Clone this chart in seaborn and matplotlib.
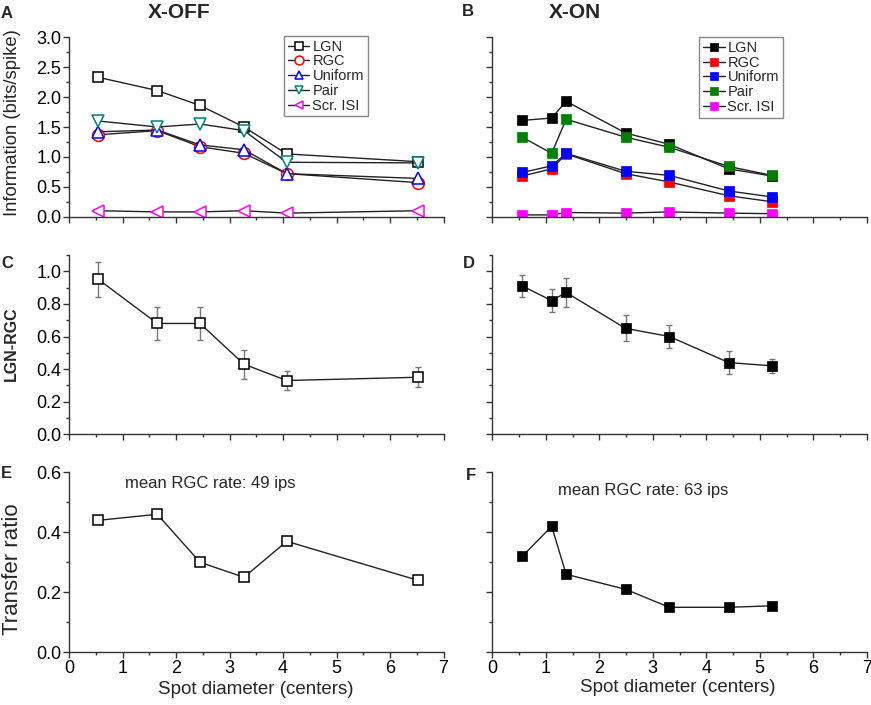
import matplotlib
matplotlib.use("Agg")
import matplotlib.pyplot as plt
import seaborn as sns
import numpy as np
import pandas as pd
from matplotlib.ticker import MultipleLocator, FormatStrFormatter

# ---------------- data ----------------
off_x = [0.55, 1.65, 2.45, 3.27, 4.07, 6.52]
off_lgn = [2.33, 2.11, 1.86, 1.50, 1.05, 0.92]
off_rgc = [1.37, 1.44, 1.17, 1.06, 0.72, 0.57]
off_uniform = [1.42, 1.45, 1.20, 1.12, 0.72, 0.64]
off_pair = [1.60, 1.50, 1.55, 1.44, 0.91, 0.90]
off_scr = [0.10, 0.08, 0.08, 0.10, 0.06, 0.10]

on_x = [0.56, 1.11, 1.38, 2.49, 3.31, 4.42, 5.23]
on_lgn = [1.61, 1.65, 1.93, 1.40, 1.21, 0.80, 0.68]
on_rgc = [0.68, 0.80, 1.05, 0.72, 0.58, 0.35, 0.25]
on_uniform = [0.74, 0.85, 1.06, 0.76, 0.69, 0.43, 0.33]
on_pair = [1.33, 1.06, 1.63, 1.33, 1.16, 0.84, 0.69]
on_scr = [0.03, 0.03, 0.07, 0.06, 0.08, 0.06, 0.05]

off_ratio = [0.95, 0.68, 0.68, 0.43, 0.33, 0.35]
off_ratio_err = [0.11, 0.10, 0.10, 0.09, 0.06, 0.06]
on_ratio = [0.91, 0.82, 0.87, 0.65, 0.60, 0.44, 0.42]
on_ratio_err = [0.07, 0.07, 0.09, 0.08, 0.07, 0.07, 0.045]

off_transfer = [0.44, 0.46, 0.30, 0.25, 0.37, 0.24]
on_transfer = [0.32, 0.42, 0.26, 0.21, 0.15, 0.15, 0.155]

series_names = ["LGN", "RGC", "Uniform", "Pair", "Scr. ISI"]
off_markers = ["s", "o", "^", "v", "<"]
off_colors = ["black", "#ff0000", "#0000ff", "#008080", "#ff00ff"]
on_colors = ["black", "#ff0000", "#0000ff", "#008000", "#ff00ff"]

# ---------------- style ----------------
sns.set_style("ticks")
plt.rcParams["font.family"] = ["Liberation Sans", "DejaVu Sans"]
plt.rcParams["axes.edgecolor"] = "#333333"
plt.rcParams["xtick.color"] = "#333333"
plt.rcParams["ytick.color"] = "#333333"
plt.rcParams["xtick.labelcolor"] = "black"
plt.rcParams["ytick.labelcolor"] = "black"

W, H = 871, 705
fig = plt.figure(figsize=(W / 100, H / 100), dpi=100)


def axes_px(left, y0, width, height):
    return fig.add_axes([left / W, 1 - y0 / H, width / W, height / H])


xl_left, xl_right, ax_w = 69, 492.3, 374.5
axA = axes_px(xl_left, 216.7, ax_w, 179.4)
axB = axes_px(xl_right, 216.7, ax_w, 179.4)
axC = axes_px(xl_left, 434.3, ax_w, 179.3)
axD = axes_px(xl_right, 434.3, ax_w, 179.3)
axE = axes_px(xl_left, 652.3, ax_w, 180.0)
axF = axes_px(xl_right, 652.3, ax_w, 180.0)

TICK_FS = 13

for ax in [axA, axB, axC, axD, axE, axF]:
    sns.despine(ax=ax)
    ax.set_xlim(0, 7)
    ax.xaxis.set_major_locator(MultipleLocator(1))
    ax.xaxis.set_minor_locator(MultipleLocator(0.5))
    ax.tick_params(which="major", direction="out", length=4, width=1, labelsize=TICK_FS, pad=1.5)
    ax.tick_params(which="minor", direction="out", length=2, width=1)
    for s in ax.spines.values():
        s.set_linewidth(1.0)

for ax in [axA, axB]:
    ax.set_ylim(0, 3.0)
    ax.yaxis.set_major_locator(MultipleLocator(0.5))
    ax.yaxis.set_minor_locator(MultipleLocator(0.25))
for ax in [axC, axD]:
    ax.set_ylim(0, 1.1)
    ax.yaxis.set_major_locator(MultipleLocator(0.2))
    ax.yaxis.set_minor_locator(MultipleLocator(0.1))
for ax in [axE, axF]:
    ax.set_ylim(0, 0.6)
    ax.yaxis.set_major_locator(MultipleLocator(0.2))
    ax.yaxis.set_minor_locator(MultipleLocator(0.1))

for ax in [axA, axB, axC, axD]:
    ax.tick_params(axis="x", labelbottom=False)
for ax in [axB, axD, axF]:
    ax.tick_params(axis="y", labelleft=False)
for ax in [axA, axC, axE]:
    ax.yaxis.set_major_formatter(FormatStrFormatter("%.1f"))

# ---------------- panel A ----------------
off_vals = [off_lgn, off_rgc, off_uniform, off_pair, off_scr]
for name, vals, mk, col in zip(series_names, off_vals, off_markers, off_colors):
    df = pd.DataFrame({"x": off_x, "y": vals})
    sns.lineplot(data=df, x="x", y="y", ax=axA, sort=False, estimator=None,
                 color="#222222", linewidth=1.0, marker=mk, markersize=8.5 if mk != "s" else 7,
                 markerfacecolor="white", markeredgecolor=col, markeredgewidth=1.1,
                 label=name)
legA = axA.legend(loc="upper left", bbox_to_anchor=(0.574, 1.007), fontsize=10.5,
                  frameon=True, fancybox=False, edgecolor="#888888", framealpha=1,
                  labelspacing=0.05, handlelength=1.5, handletextpad=0.2,
                  borderpad=0.25, borderaxespad=0, markerscale=0.75)
legA.get_frame().set_linewidth(1.0)

# ---------------- panel B ----------------
on_vals = [on_lgn, on_rgc, on_uniform, on_pair, on_scr]
for name, vals, col in zip(series_names, on_vals, on_colors):
    df = pd.DataFrame({"x": on_x, "y": vals})
    sns.lineplot(data=df, x="x", y="y", ax=axB, sort=False, estimator=None,
                 color="#222222", linewidth=1.0, marker="s", markersize=7.5,
                 markerfacecolor=col, markeredgecolor=col, markeredgewidth=0.5,
                 label=name)
legB = axB.legend(loc="upper left", bbox_to_anchor=(0.552, 1.0), fontsize=10.5,
                  frameon=True, fancybox=False, edgecolor="#888888", framealpha=1,
                  labelspacing=0.05, handlelength=1.5, handletextpad=0.2,
                  borderpad=0.25, borderaxespad=0, markerscale=0.8)
legB.get_frame().set_linewidth(1.0)

# ---------------- panel C / D ----------------
axC.errorbar(off_x, off_ratio, yerr=off_ratio_err, fmt="none", ecolor="#777777",
             elinewidth=1, capsize=2.5, capthick=1, zorder=1)
sns.lineplot(x=off_x, y=off_ratio, ax=axC, sort=False, estimator=None, color="#222222",
             linewidth=1.0, marker="s", markersize=7, markerfacecolor="white",
             markeredgecolor="black", markeredgewidth=1.1, zorder=3)
axD.errorbar(on_x, on_ratio, yerr=on_ratio_err, fmt="none", ecolor="#777777",
             elinewidth=1, capsize=2.5, capthick=1, zorder=1)
sns.lineplot(x=on_x, y=on_ratio, ax=axD, sort=False, estimator=None, color="#222222",
             linewidth=1.0, marker="s", markersize=7.5, markerfacecolor="black",
             markeredgecolor="black", markeredgewidth=0.5, zorder=3)

# ---------------- panel E / F ----------------
sns.lineplot(x=off_x, y=off_transfer, ax=axE, sort=False, estimator=None, color="#222222",
             linewidth=1.0, marker="s", markersize=7, markerfacecolor="white",
             markeredgecolor="black", markeredgewidth=1.1)
sns.lineplot(x=on_x, y=on_transfer, ax=axF, sort=False, estimator=None, color="#222222",
             linewidth=1.0, marker="s", markersize=7.5, markerfacecolor="black",
             markeredgecolor="black", markeredgewidth=0.5)

axE.text(1.05, 0.564, "mean RGC rate: 49 ips", fontsize=12, va="center", ha="left")
axF.text(1.23, 0.541, "mean RGC rate: 63 ips", fontsize=12, va="center", ha="left")

for ax in [axA, axB, axC, axD, axE, axF]:
    ax.set_xlabel("")
    ax.set_ylabel("")


# ---------------- labels ----------------
def ftext(x, y, s, **kw):
    fig.text(x / W, 1 - y / H, s, **kw)


ftext(13, 123, "Information (bits/spike)", fontsize=13.3, rotation=90, ha="center", va="center")
ftext(11, 344, "LGN-RGC", fontsize=11.5, fontweight="bold", rotation=90, ha="center", va="center")
ftext(13, 569, "Transfer ratio", fontsize=16, rotation=90, ha="center", va="center")
ftext(255.5, 690, "Spot diameter (centers)", fontsize=13.5, ha="center", va="center")
ftext(678, 687, "Spot diameter (centers)", fontsize=13.5, ha="center", va="center")

ftext(179, 13, "X-OFF", fontsize=15, fontweight="bold", ha="center", va="center")
ftext(575, 12, "X-ON", fontsize=15, fontweight="bold", ha="center", va="center")
ftext(1, 13, "A", fontsize=12, fontweight="bold", ha="left", va="center")
ftext(462, 12, "B", fontsize=12, fontweight="bold", ha="left", va="center")
ftext(1, 263, "C", fontsize=12, fontweight="bold", ha="left", va="center")
ftext(463, 263, "D", fontsize=12, fontweight="bold", ha="left", va="center")
ftext(1, 473, "E", fontsize=12, fontweight="bold", ha="left", va="center")
ftext(466, 475, "F", fontsize=12, fontweight="bold", ha="left", va="center")

fig.savefig("out.png", dpi=100)
